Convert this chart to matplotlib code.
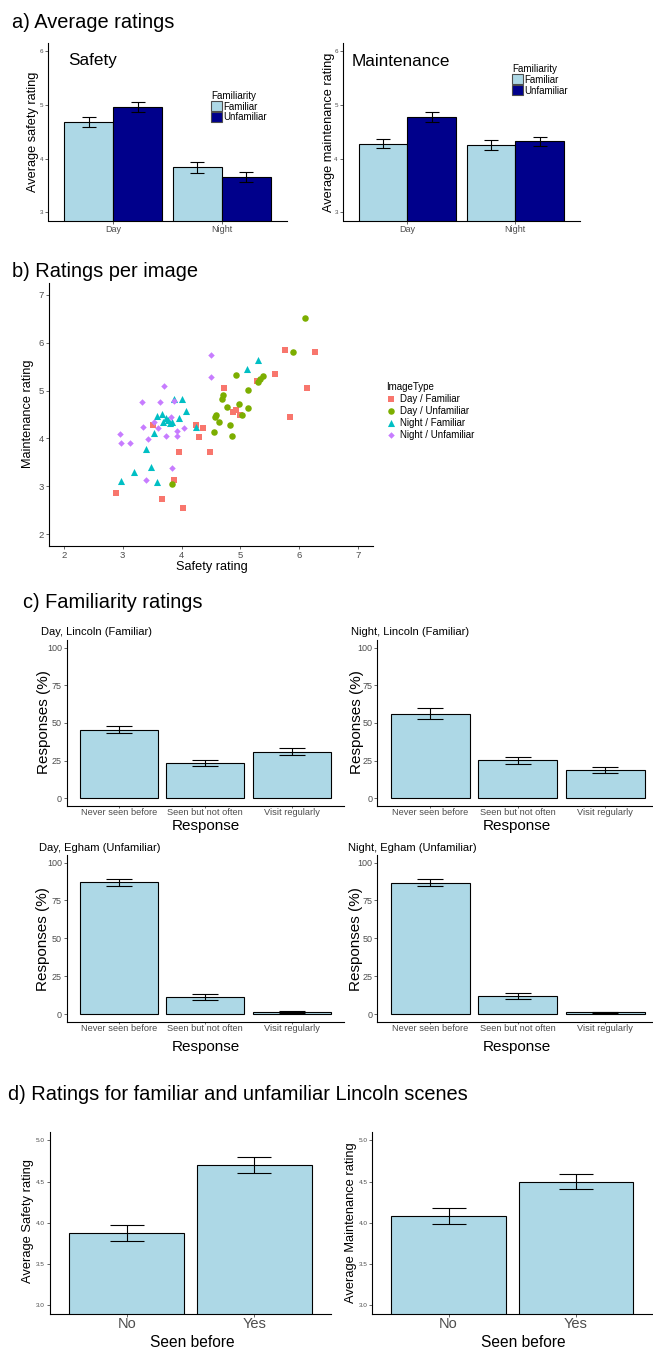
import matplotlib
matplotlib.use("Agg")
import matplotlib.pyplot as plt
from matplotlib.patches import Patch
import numpy as np

plt.rcParams["font.family"] = ["Liberation Sans", "DejaVu Sans"]

W, H = 653, 1351
LIGHT = "#ADD8E6"
DARK = "#00008B"
GREY = "#4D4D4D"
TITLE_SIZE = 14.4

# a) average ratings
times = ["Day", "Night"]
safety_fam = [4.68, 3.84]
safety_fam_err = [0.085, 0.105]
safety_unf = [4.96, 3.66]
safety_unf_err = [0.10, 0.095]
maint_fam = [4.28, 4.25]
maint_fam_err = [0.09, 0.09]
maint_unf = [4.77, 4.32]
maint_unf_err = [0.09, 0.09]

# b) ratings per image (safety, maintenance)
day_fam_x = [2.89, 3.51, 3.67, 3.88, 3.95, 4.03, 4.25, 4.29, 4.36, 4.49,
             4.72, 4.88, 4.93, 5.00, 5.28, 5.59, 5.75, 5.84, 6.13, 6.26]
day_fam_y = [2.85, 4.27, 2.73, 3.13, 3.71, 2.54, 4.27, 4.02, 4.21, 3.71,
             5.06, 4.56, 4.60, 4.48, 5.21, 5.35, 5.85, 4.44, 5.06, 5.81]
day_unf_x = [3.83, 4.55, 4.56, 4.58, 4.63, 4.68, 4.70, 4.78, 4.83, 4.86,
             4.93, 4.98, 5.03, 5.13, 5.13, 5.30, 5.33, 5.38, 5.90, 6.10]
day_unf_y = [3.05, 4.13, 4.45, 4.50, 4.35, 4.83, 4.90, 4.65, 4.28, 4.06,
             5.33, 4.72, 4.50, 5.01, 4.63, 5.18, 5.25, 5.31, 5.81, 6.51]
night_fam_x = [2.98, 3.20, 3.40, 3.48, 3.53, 3.58, 3.58, 3.66, 3.69, 3.73,
               3.77, 3.81, 3.83, 3.88, 3.96, 4.01, 4.07, 4.25, 5.11, 5.30]
night_fam_y = [3.10, 3.29, 3.77, 3.40, 4.12, 3.08, 4.47, 4.52, 4.35, 4.42,
               4.38, 4.33, 4.35, 4.82, 4.43, 4.82, 4.58, 4.23, 5.45, 5.63]
night_unf_x = [2.95, 2.98, 3.13, 3.33, 3.35, 3.40, 3.43, 3.53, 3.60, 3.63,
               3.70, 3.73, 3.82, 3.83, 3.87, 3.93, 3.93, 4.05, 4.50, 4.50]
night_unf_y = [4.10, 3.90, 3.90, 4.76, 4.23, 3.13, 3.98, 4.35, 4.21, 4.76,
               5.10, 4.06, 4.45, 3.38, 4.78, 4.15, 4.06, 4.21, 5.75, 5.28]

# c) familiarity responses (%)
responses = ["Never seen before", "Seen but not often", "Visit regularly"]
day_lincoln = [45.5, 23.3, 30.7]
day_lincoln_err = [2.5, 2.0, 2.3]
night_lincoln = [56.0, 25.1, 18.7]
night_lincoln_err = [3.7, 2.5, 2.3]
day_egham = [87.0, 11.5, 1.3]
day_egham_err = [2.3, 2.0, 0.5]
night_egham = [86.8, 11.7, 1.2]
night_egham_err = [2.2, 2.0, 0.5]

# d) Lincoln scenes, seen before
seen = ["No", "Yes"]
seen_safety = [3.875, 4.70]
seen_safety_err = [0.10, 0.10]
seen_maint = [4.08, 4.50]
seen_maint_err = [0.095, 0.09]

fig = plt.figure(figsize=(W / 100, H / 100), dpi=100)


def add_ax(x0, y0, x1, y1):
    ax = fig.add_axes([x0 / W, 1 - y1 / H, (x1 - x0) / W, (y1 - y0) / H])
    for s in ["top", "right"]:
        ax.spines[s].set_visible(False)
    for s in ["left", "bottom"]:
        ax.spines[s].set_linewidth(0.8)
    ax.tick_params(direction="out", length=2, width=0.6, color=GREY,
                   labelcolor=GREY, pad=1.5)
    return ax


def ftext(x, y, s, **kw):
    return fig.text(x / W, 1 - y / H, s, **kw)


# ---- a) Average ratings
ftext(12, 28.3, "a) Average ratings", fontsize=TITLE_SIZE, va="baseline")
x = np.arange(1, 3)
for (x0, x1), fam, fe, unf, ue, name, ylab, ylx, leg in [
        ((48, 287), safety_fam, safety_fam_err, safety_unf, safety_unf_err,
         "Safety", "Average safety rating", 33, (211, 91)),
        ((342.7, 580), maint_fam, maint_fam_err, maint_unf, maint_unf_err,
         "Maintenance", "Average maintenance rating", 329, (512, 64))]:
    ax = add_ax(x0, 43, x1, 220.5)
    ax.bar(x - 0.225, fam, 0.45, bottom=0, color=LIGHT, edgecolor="black", linewidth=0.8)
    ax.bar(x + 0.225, unf, 0.45, bottom=0, color=DARK, edgecolor="black", linewidth=0.8)
    ax.errorbar(x - 0.225, fam, yerr=fe, fmt="none", ecolor="black", elinewidth=0.8, capsize=5, capthick=0.8)
    ax.errorbar(x + 0.225, unf, yerr=ue, fmt="none", ecolor="black", elinewidth=0.8, capsize=5, capthick=0.8)
    ax.set_xlim(0.4, 2.6)
    ax.set_ylim(2.85, 6.15)
    ax.set_xticks(x)
    ax.set_xticklabels(times, fontsize=6.5)
    ax.set_yticks([3, 4, 5, 6])
    ax.tick_params(axis="y", labelsize=4.5)
    ftext(ylx, 132, ylab, fontsize=9.2, rotation=90, ha="center", va="center")
    ftext(x0 + 20 if name == "Safety" else x0 + 8.5, 65.5, name, fontsize=12.3, va="baseline")
    handles = [Patch(facecolor=LIGHT, edgecolor=GREY, linewidth=0.8, label="Familiar"),
               Patch(facecolor=DARK, edgecolor=GREY, linewidth=0.8, label="Unfamiliar")]
    fig.legend(handles=handles, title="Familiarity", loc="upper left",
               bbox_to_anchor=(leg[0] / W, 1 - leg[1] / H), frameon=False,
               fontsize=7, title_fontsize=7.1, alignment="left",
               handlelength=1.1, handleheight=1.2, handletextpad=0.2,
               labelspacing=0.05, borderpad=0, borderaxespad=0)

# ---- b) Ratings per image
ftext(11.7, 276.7, "b) Ratings per image", fontsize=TITLE_SIZE, va="baseline")
ax = add_ax(49, 283, 373, 546)
ax.scatter(day_fam_x, day_fam_y, marker="s", s=19, color="#F8766D", linewidths=0, label="Day / Familiar")
ax.scatter(day_unf_x, day_unf_y, marker="o", s=22, color="#7CAE00", linewidths=0, label="Day / Unfamiliar")
ax.scatter(night_fam_x, night_fam_y, marker="^", s=26, color="#00BFC4", linewidths=0, label="Night / Familiar")
ax.scatter(night_unf_x, night_unf_y, marker="D", s=11, color="#C77CFF", linewidths=0, label="Night / Unfamiliar")
ax.set_xlim(1.75, 7.25)
ax.set_ylim(1.75, 7.25)
ax.set_xticks(range(2, 8))
ax.set_yticks(range(2, 8))
ax.tick_params(labelsize=6.8)
ftext(211.5, 566.7, "Safety rating", fontsize=9.2, ha="center", va="center")
ftext(28, 414, "Maintenance rating", fontsize=9.2, rotation=90, ha="center", va="center")
h, l = ax.get_legend_handles_labels()
fig.legend(h, l, title="ImageType", loc="upper left",
           bbox_to_anchor=(386 / W, 1 - 382 / H), frameon=False,
           fontsize=7, title_fontsize=7, alignment="left",
           handlelength=1.0, handletextpad=0.4, labelspacing=0.2,
           borderpad=0, borderaxespad=0, scatterpoints=1)

# ---- c) Familiarity ratings
ftext(22.7, 608.3, "c) Familiarity ratings", fontsize=TITLE_SIZE, va="baseline")
xc = np.arange(1, 4)
panels = [
    ((66.7, 640, 344, 805.7), day_lincoln, day_lincoln_err, "Day, Lincoln (Familiar)", (41, 632), 44, 722.5, 205.8, 826),
    ((377.5, 640, 658, 805.7), night_lincoln, night_lincoln_err, "Night, Lincoln (Familiar)", (350.7, 632.3), 356.7, 722.5, 517, 826),
    ((66.7, 855, 344, 1021.7), day_egham, day_egham_err, "Day, Egham (Unfamiliar)", (39, 848), 42.5, 939, 205.8, 1046.7),
    ((377.5, 855, 658, 1021.7), night_egham, night_egham_err, "Night, Egham (Unfamiliar)", (348.3, 848.3), 356, 939, 516.7, 1046.7),
]
for box, vals, errs, sub, subpos, ylx, yly, xlx, xly in panels:
    ax = add_ax(*box)
    ax.bar(xc, vals, 0.9, color=LIGHT, edgecolor="black", linewidth=0.8)
    ax.errorbar(xc, vals, yerr=errs, fmt="none", ecolor="black", elinewidth=0.8, capsize=9.5, capthick=0.8)
    ax.set_xlim(0.4, 3.6)
    ax.set_ylim(-5, 105)
    ax.set_xticks(xc)
    ax.set_xticklabels(responses, fontsize=6.7)
    ax.tick_params(axis="x", length=1.2, pad=0.3)
    ax.set_yticks([0, 25, 50, 75, 100])
    ax.tick_params(axis="y", labelsize=6.5)
    ftext(subpos[0], subpos[1], sub, fontsize=8, va="center")
    ftext(ylx, yly, "Responses (%)", fontsize=11, rotation=90, ha="center", va="center")
    ftext(xlx, xly, "Response", fontsize=11, ha="center", va="center")

# ---- d) Ratings for familiar and unfamiliar Lincoln scenes
ftext(8.3, 1100, "d) Ratings for familiar and unfamiliar Lincoln scenes", fontsize=TITLE_SIZE, va="baseline")
xd = np.arange(1, 3)
for box, vals, errs, ylab, ylx, yly, xlx in [
        ((50, 1132, 331, 1313.5), seen_safety, seen_safety_err, "Average Safety rating", 28, 1221, 192.5),
        ((372.3, 1132, 652, 1313.5), seen_maint, seen_maint_err, "Average Maintenance rating", 350.8, 1223, 523)]:
    ax = add_ax(*box)
    ax.bar(xd, vals, 0.9, color=LIGHT, edgecolor="black", linewidth=0.8)
    ax.errorbar(xd, vals, yerr=errs, fmt="none", ecolor="black", elinewidth=0.8, capsize=12, capthick=0.8)
    ax.set_xlim(0.4, 2.6)
    ax.set_ylim(2.9, 5.1)
    ax.set_xticks(xd)
    ax.set_xticklabels(seen, fontsize=10.5)
    ax.tick_params(axis="x", pad=0.8)
    ax.set_yticks([3.0, 3.5, 4.0, 4.5, 5.0])
    ax.set_yticklabels(["%.1f" % v for v in [3.0, 3.5, 4.0, 4.5, 5.0]])
    ax.tick_params(axis="y", labelsize=4.6)
    ftext(ylx, yly, ylab, fontsize=9.3, rotation=90, ha="center", va="center")
    ftext(xlx, 1342.7, "Seen before", fontsize=11.2, ha="center", va="center")

fig.savefig("out.png", dpi=100)
